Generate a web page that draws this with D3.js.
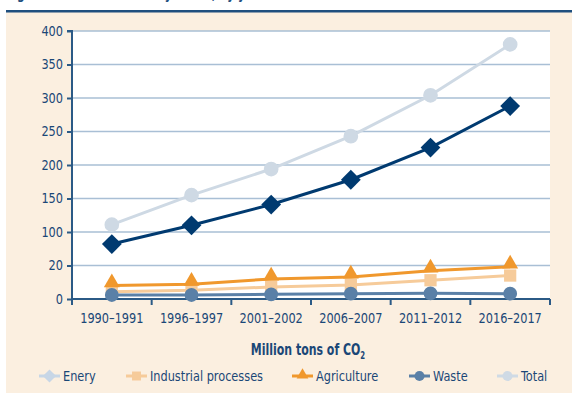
<!DOCTYPE html>
<html>
<head>
<meta charset="utf-8">
<script src="https://cdn.jsdelivr.net/npm/d3@7"></script>
<style>
  html, body { margin: 0; padding: 0; background: #ffffff; }
  svg { display: block; }
  text { font-family: "DejaVu Sans Condensed", "DejaVu Sans", sans-serif; font-stretch: condensed; }
</style>
</head>
<body>
<svg id="chart" width="572" height="393"></svg>
<script>
const categories = ["1990\u20131991", "1996\u20131997", "2001\u20132002", "2006\u20132007", "2011\u20132012", "2016\u20132017"];
const energy      = [82, 110, 141, 178, 226, 288];
const industrial  = [11, 13, 18, 21, 28, 35];
const agriculture = [20, 22, 30, 33, 42, 48];
const waste       = [6, 6, 7, 8, 8.5, 8];
const total       = [111, 155, 194, 243, 304, 380];
const yTickValues = [0, 50, 100, 150, 200, 250, 300, 350, 400];
const yTickLabels = ["0", "20", "100", "150", "200", "250", "300", "350", "400"];
const seriesNames = ["Enery", "Industrial processes", "Agriculture", "Waste", "Total"];

(function () {
const svg = d3.select("#chart");
const W = 572, H = 393;
const textColor = "#1a4777";
const axisColor = "#2b5a86";
const gridColor = "#a9bfd5";
const SX = 0.9;

function condense(sel, s) {
  sel.each(function () {
    const t = d3.select(this);
    const tx = +t.attr("x") || 0, ty = +t.attr("y") || 0;
    t.attr("x", 0).attr("y", 0).attr("transform", `translate(${tx},${ty}) scale(${s},1)`);
  });
}

// page background & header
svg.append("rect").attr("x", 6).attr("y", 12).attr("width", W - 6).attr("height", H - 12).attr("fill", "#fbefe0");
svg.append("rect").attr("x", 6).attr("y", 10).attr("width", W - 6).attr("height", 2.5).attr("fill", "#1f4f7e");
svg.append("text").attr("x", 6).attr("y", -1).attr("fill", "#1f4f7e")
  .attr("font-size", 15).attr("font-weight", "bold").text("Figure 1: CO2 emissions by sector, by year")
  .call(condense, 0.8);

const pL = 72, pR = 550, pT = 31, pB = 299;
svg.append("rect").attr("x", pL).attr("y", pT).attr("width", pR - pL).attr("height", pB - pT).attr("fill", "#ffffff");

const x = d3.scaleBand().domain(categories).range([pL, pR]).padding(0);
const y = d3.scaleLinear().domain([0, 400]).range([pB, pT]);
const cx = d => x(d) + x.bandwidth() / 2;

// gridlines
svg.append("g").selectAll("line").data(yTickValues.filter(v => v > 0)).join("line")
  .attr("x1", pL).attr("x2", pR)
  .attr("y1", d => y(d)).attr("y2", d => y(d))
  .attr("stroke", gridColor).attr("stroke-width", 1.5);

// y axis
const yAxis = d3.axisLeft(y).tickValues(yTickValues).tickSize(5).tickPadding(4)
  .tickFormat((d, i) => yTickLabels[i]);
const gy = svg.append("g").attr("transform", `translate(${pL},0)`).call(yAxis);
gy.attr("font-family", null);
gy.select(".domain").attr("stroke", axisColor).attr("stroke-width", 2).attr("d", `M-5,${pT}H0V${pB}`);
gy.selectAll(".tick line").attr("stroke", axisColor).attr("stroke-width", 2);
gy.selectAll(".tick text").attr("fill", textColor).attr("font-size", 14).call(condense, SX);

// x axis
const gx = svg.append("g").attr("transform", `translate(0,${pB})`);
gx.append("line").attr("x1", pL).attr("x2", pR).attr("y1", 0).attr("y2", 0)
  .attr("stroke", axisColor).attr("stroke-width", 2);
const bounds = categories.map(c => x(c)).concat([pR]);
gx.selectAll("line.tk").data(bounds).join("line").attr("class", "tk")
  .attr("x1", d => d).attr("x2", d => d).attr("y1", 0).attr("y2", 6)
  .attr("stroke", axisColor).attr("stroke-width", 2);
gx.selectAll("text").data(categories).join("text")
  .attr("x", d => cx(d)).attr("y", 24).attr("text-anchor", "middle")
  .attr("fill", textColor).attr("font-size", 14).text(d => d).call(condense, SX);

// series
const series = [
  { name: seriesNames[1], values: industrial, color: "#f6cb9a", sym: d3.symbolSquare, size: 150, w: 3 },
  { name: seriesNames[2], values: agriculture, color: "#f0982d", sym: d3.symbolTriangle, size: 110, w: 3 },
  { name: seriesNames[3], values: waste, color: "#5a80a7", sym: d3.symbolCircle, size: 150, w: 3 },
  { name: seriesNames[4], values: total, color: "#ced9e4", sym: d3.symbolCircle, size: 170, w: 3 },
  { name: seriesNames[0], values: energy, color: "#003a70", sym: d3.symbolDiamond2, size: 250, w: 3 }
];
const line = d3.line().x((d, i) => cx(categories[i])).y(d => y(d));
series.forEach(s => {
  const g = svg.append("g");
  g.append("path").datum(s.values).attr("d", line).attr("fill", "none")
    .attr("stroke", s.color).attr("stroke-width", s.w);
  g.selectAll("path.m").data(s.values).join("path").attr("class", "m")
    .attr("transform", (d, i) => `translate(${cx(categories[i])},${y(d) + (s.sym === d3.symbolTriangle ? -3 : 0)})`)
    .attr("d", d3.symbol().type(s.sym).size(s.size)).attr("fill", s.color);
});

// axis title
const tt = svg.append("text").attr("x", 308).attr("y", 355).attr("text-anchor", "middle")
  .attr("fill", textColor).attr("font-size", 16.5).attr("font-weight", "bold");
tt.append("tspan").text("Million tons of CO");
tt.append("tspan").attr("font-size", 10.5).attr("dy", 4).text("2");
tt.call(condense, 0.74);

// legend
const legend = [
  { name: seriesNames[0], color: "#c7d6e6", sym: d3.symbolDiamond2, size: 110, x: 39 },
  { name: seriesNames[1], color: "#f6cb9a", sym: d3.symbolSquare, size: 80, x: 126 },
  { name: seriesNames[2], color: "#f0982d", sym: d3.symbolTriangle, size: 60, x: 292 },
  { name: seriesNames[3], color: "#5a80a7", sym: d3.symbolCircle, size: 80, x: 409 },
  { name: seriesNames[4], color: "#cfdae5", sym: d3.symbolCircle, size: 80, x: 497 }
];
const lg = svg.append("g").attr("transform", "translate(0,376)");
legend.forEach(l => {
  lg.append("line").attr("x1", l.x).attr("x2", l.x + 21).attr("y1", 0).attr("y2", 0)
    .attr("stroke", l.color).attr("stroke-width", 3);
  lg.append("path").attr("transform", `translate(${l.x + 10.5},${l.sym === d3.symbolTriangle ? -1 : 0})`)
    .attr("d", d3.symbol().type(l.sym).size(l.size)).attr("fill", l.color);
  lg.append("text").attr("x", l.x + 24).attr("y", 5).attr("fill", textColor)
    .attr("font-size", 14).text(l.name).call(condense, SX);
});
})();
</script>
</body>
</html>
